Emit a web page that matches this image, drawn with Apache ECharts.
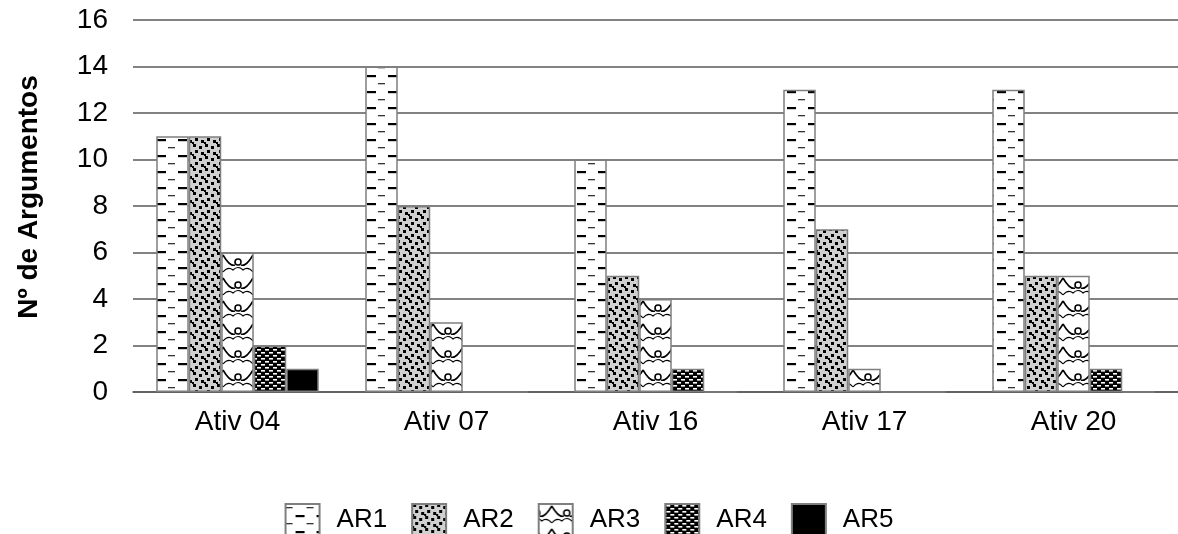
<!DOCTYPE html>
<html><head><meta charset="utf-8">
<script src="https://cdn.jsdelivr.net/npm/echarts@6/dist/echarts.min.js"></script>
<style>html,body{margin:0;padding:0;background:#fff}#c{width:1178px;height:534px}</style>
</head><body><div id="c"></div>
<script>
const categories = ['Ativ 04', 'Ativ 07', 'Ativ 16', 'Ativ 17', 'Ativ 20'];
const seriesNames = ['AR1', 'AR2', 'AR3', 'AR4', 'AR5'];
const AR1 = [11, 14, 10, 13, 13];
const AR2 = [11, 8, 5, 7, 5];
const AR3 = [6, 3, 4, 1, 5];
const AR4 = [2, 0, 1, 0, 1];
const AR5 = [1, 0, 0, 0, 0];
const yTicks = [0, 2, 4, 6, 8, 10, 12, 14, 16];

function tile(w, h, draw) {
  const c = document.createElement('canvas');
  c.width = w; c.height = h;
  const g = c.getContext('2d');
  draw(g, w, h);
  return c;
}
// AR1: white with dashes (thin pair row + thick centre row)
const p1 = tile(21, 16, (g) => {
  g.fillStyle = '#fff'; g.fillRect(0, 0, 21, 16);
  g.fillStyle = '#333';
  g.fillRect(0, 3, 7, 1.3);
  g.fillStyle = '#000';
  g.fillRect(10, 11, 9, 2.2);
});
// AR2: light gray with black confetti squares
const p2 = tile(12, 12, (g) => {
  g.fillStyle = '#d0d0d0'; g.fillRect(0, 0, 12, 12);
  g.fillStyle = '#000';
  g.fillRect(1, 0, 3, 3); g.fillRect(7, 2, 3, 3);
  g.fillRect(3, 6, 3, 3); g.fillRect(9, 8, 3, 3); g.fillRect(0, 10, 2, 2);
});
// AR3: scallop / cloud motif, one per bar width
const p3 = tile(30, 23, (g) => {
  g.fillStyle = '#fff'; g.fillRect(0, 0, 30, 23);
  g.strokeStyle = '#000'; g.lineWidth = 1.6;
  for (const cx of [28 - 30, 28, 28 + 30]) {
    for (const oy of [-23, 0, 23]) {
      // broad smile line
      g.beginPath();
      g.moveTo(cx - 15, oy + 2);
      g.quadraticCurveTo(cx - 8, oy + 14, cx - 3, oy + 12);
      g.moveTo(cx + 3, oy + 12);
      g.quadraticCurveTo(cx + 8, oy + 14, cx + 15, oy + 2);
      g.stroke();
      // head
      g.beginPath(); g.arc(cx, oy + 9, 3, 0, Math.PI * 2); g.stroke();
      // cloud outline below
      g.lineWidth = 1.1;
      g.beginPath();
      g.moveTo(cx - 15, oy + 19);
      g.quadraticCurveTo(cx - 10, oy + 13, cx - 5, oy + 17);
      g.quadraticCurveTo(cx, oy + 12, cx + 5, oy + 17);
      g.quadraticCurveTo(cx + 10, oy + 13, cx + 15, oy + 19);
      g.stroke();
      g.lineWidth = 1.6;
    }
  }
});
// AR4: black with small white dashes
const p4 = tile(8, 6, (g) => {
  g.fillStyle = '#000'; g.fillRect(0, 0, 8, 6);
  g.fillStyle = '#fff';
  g.fillRect(1, 1, 4, 1.6); g.fillRect(5, 4, 3, 1.6); g.fillRect(0, 4, 1, 1.6);
});
const fills = [
  { image: p1, repeat: 'repeat' },
  { image: p2, repeat: 'repeat' },
  { image: p3, repeat: 'repeat' },
  { image: p4, repeat: 'repeat' },
  '#000'
];
const data = [AR1, AR2, AR3, AR4, AR5];
const FONT = 'Liberation Sans, Arial, sans-serif';

const chart = echarts.init(document.getElementById('c'), null, { renderer: 'canvas' });
chart.setOption({
  animation: false,
  backgroundColor: '#fff',
  textStyle: { fontFamily: FONT },
  grid: { left: 133, right: 0, top: 20, bottom: 142, containLabel: false },
  legend: {
    left: 'center', top: 498, icon: 'rect', itemWidth: 34, itemHeight: 32, itemGap: 24,
    textStyle: { fontSize: 26, color: '#000', fontFamily: FONT, padding: [0, 0, 0, 12] },
    data: seriesNames
  },
  xAxis: {
    type: 'category', data: categories,
    axisLine: { lineStyle: { color: '#595959', width: 1.5 } },
    axisTick: { show: false },
    axisLabel: { fontSize: 28, color: '#000', margin: 16, fontFamily: FONT }
  },
  yAxis: {
    type: 'value', min: yTicks[0], max: yTicks[yTicks.length - 1], interval: 2,
    name: 'Nº de Argumentos', nameLocation: 'middle', nameGap: 90,
    nameTextStyle: { fontSize: 28, fontWeight: 'bold', color: '#000', fontFamily: FONT, padding: [0, 0, 0, 18] },
    axisLine: { show: false }, axisTick: { show: false },
    axisLabel: { fontSize: 28, color: '#000', margin: 25, fontFamily: FONT },
    splitLine: { lineStyle: { color: '#595959', width: 1.5 } }
  },
  series: seriesNames.map((n, i) => ({
    name: n, type: 'bar', data: data[i],
    barWidth: 32.5, barGap: '0%',
    itemStyle: { color: fills[i], borderColor: '#7f7f7f', borderWidth: 1.5 },
    emphasis: { disabled: true }
  }))
});
</script></body></html>
